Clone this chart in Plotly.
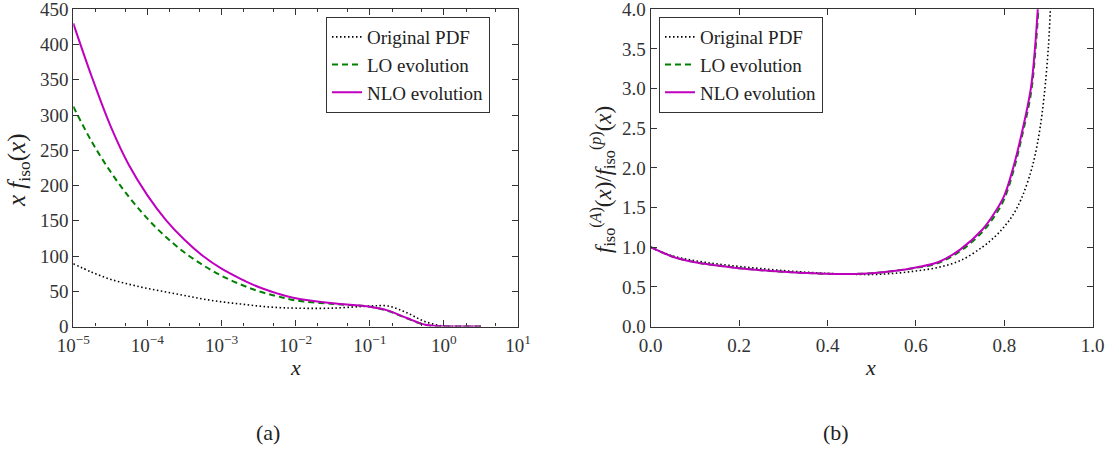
import plotly.graph_objects as go

# ---------------- Panel (a): x f_iso(x) vs x (log x) ----------------
log_x_a = [-5, -4.75, -4.5, -4.25, -4, -3.75, -3.5, -3.25, -3, -2.75, -2.5, -2.25,
           -2, -1.5, -1, -0.75, -0.5, -0.25, 0, 0.25, 0.5]
orig_a = [89, 77, 67, 60, 54, 49, 44, 39, 35, 32, 29, 27,
          26, 26, 29, 29, 19.5, 6.8, 0.5, 0, 0]
lo_a = [312, 262, 220, 184, 153, 127, 105, 87, 72, 60, 50, 43,
        37, 32, 28, 22, 11.5, 2.3, 0.3, 0, 0]
nlo_a = [430, 354, 285, 229, 186, 151, 123, 100, 82, 68, 56, 47,
         40, 33, 28, 22.5, 12, 2.5, 0.3, 0, 0]
x_a = [10 ** v for v in log_x_a]

# ---------------- Panel (b): ratio vs x ----------------
x_b = [0, 0.05, 0.1, 0.15, 0.2, 0.25, 0.3, 0.35, 0.4, 0.45, 0.5, 0.55, 0.6, 0.65,
       0.7, 0.75, 0.78, 0.8, 0.82, 0.84, 0.86, 0.87, 0.88, 0.89, 0.9, 0.905]
orig_b = [1.0, 0.89, 0.83, 0.79, 0.757, 0.73, 0.705, 0.685, 0.67, 0.66, 0.655, 0.67,
          0.70, 0.745, 0.83, 1.0, 1.14, 1.26, 1.41, 1.63, 1.95, 2.17, 2.47, 2.9, 3.55, 4.1]
x_b2 = [0, 0.05, 0.1, 0.15, 0.2, 0.25, 0.3, 0.35, 0.4, 0.45, 0.5, 0.55, 0.6, 0.65,
        0.7, 0.75, 0.78, 0.8, 0.82, 0.84, 0.86, 0.87, 0.88]
lo_b = [1.0, 0.88, 0.81, 0.77, 0.736, 0.71, 0.69, 0.675, 0.664, 0.662, 0.672, 0.70,
        0.74, 0.80, 0.95, 1.19, 1.41, 1.61, 1.95, 2.4, 2.93, 3.45, 4.25]
nlo_b = [1.0, 0.88, 0.81, 0.77, 0.736, 0.71, 0.69, 0.675, 0.664, 0.662, 0.672, 0.70,
         0.745, 0.81, 0.97, 1.22, 1.45, 1.65, 2.0, 2.45, 3.0, 3.55, 4.4]

a_xtick_vals = [1e-5, 1e-4, 1e-3, 1e-2, 1e-1, 1e0, 1e1]
a_xtick_text = ["10<sup>−5</sup>", "10<sup>−4</sup>", "10<sup>−3</sup>", "10<sup>−2</sup>",
                "10<sup>−1</sup>", "10<sup>0</sup>", "10<sup>1</sup>"]
a_ytick_vals = [0, 50, 100, 150, 200, 250, 300, 350, 400, 450]
b_xtick_vals = [0, 0.2, 0.4, 0.6, 0.8, 1.0]
b_ytick_vals = [0, 0.5, 1.0, 1.5, 2.0, 2.5, 3.0, 3.5, 4.0]
names = ["Original PDF", "LO evolution", "NLO evolution"]

FONT = "Liberation Serif, DejaVu Serif, serif"
BLACK = "#000000"
GREEN = "#008000"
MAGENTA = "#bf00bf"

W, H = 1119, 451

fig = go.Figure()

styles = [
    dict(color=BLACK, width=1.6, dash="1.5px,2.5px"),
    dict(color=GREEN, width=2, dash="6px,4px"),
    dict(color=MAGENTA, width=2),
]

for ys, nm, st in zip([orig_a, lo_a, nlo_a], names, styles):
    fig.add_trace(go.Scatter(x=x_a, y=ys, mode="lines", name=nm,
                             line=dict(shape="spline", smoothing=1.0, **st),
                             xaxis="x", yaxis="y", legend="legend"))

for xs, ys, nm, st in zip([x_b, x_b2, x_b2], [orig_b, lo_b, nlo_b], names, styles):
    fig.add_trace(go.Scatter(x=xs, y=ys, mode="lines", name=nm,
                             line=dict(shape="spline", smoothing=1.0, **st),
                             xaxis="x2", yaxis="y2", legend="legend2"))

ax_common = dict(showline=True, linecolor="#333333", linewidth=1.2, mirror="allticks",
                 ticks="inside", ticklen=6, tickwidth=1, tickcolor="#333333",
                 showgrid=False, zeroline=False, ticklabeloverflow="allow",
                 automargin=False,
                 tickfont=dict(family=FONT, size=19, color="#333333"))

yd = [124.5 / H, 441.7 / H]
legend_common = dict(y=1 - 17 / H, xanchor="left", yanchor="top",
                     bordercolor="#333333", borderwidth=1, bgcolor="white",
                     font=dict(family=FONT, size=19, color="#222222"),
                     tracegroupgap=0, itemwidth=30)
fig.update_layout(
    width=W, height=H,
    margin=dict(l=0, r=0, t=0, b=0, autoexpand=False),
    paper_bgcolor="white", plot_bgcolor="white",
    font=dict(family=FONT, color="#222222"),
    xaxis=dict(domain=[73.3 / W, 518 / W], type="log", range=[-5, 1],
               tickmode="array", tickvals=a_xtick_vals, ticktext=a_xtick_text,
               minor=dict(ticks="inside", ticklen=3, tickcolor="#333333", showgrid=False),
               ticklabelstandoff=2, anchor="y", **ax_common),
    yaxis=dict(domain=yd, range=[0, 450], tickmode="array", tickvals=a_ytick_vals,
               anchor="x", **ax_common),
    xaxis2=dict(domain=[650.7 / W, 1092.7 / W], range=[0, 1], tickmode="array",
                tickvals=b_xtick_vals, tickformat=".1f", ticklabelstandoff=2,
                anchor="y2", **ax_common),
    yaxis2=dict(domain=yd, range=[0, 4], tickmode="array", tickvals=b_ytick_vals,
                tickformat=".1f", anchor="x2", **ax_common),
    legend=dict(x=326 / W, **legend_common),
    legend2=dict(x=659 / W, **legend_common),
    showlegend=True,
)

ann = [
    dict(x=296 / W, y=1 - 367 / H, text="<i>x</i>", font=dict(size=22)),
    dict(x=870 / W, y=1 - 367 / H, text="<i>x</i>", font=dict(size=22)),
    dict(x=268 / W, y=1 - 432 / H, text="(a)", font=dict(size=22)),
    dict(x=836 / W, y=1 - 432 / H, text="(b)", font=dict(size=22)),
    dict(x=18 / W, y=1 - 170 / H, textangle=-90,
         text="<i>x f</i><sub>iso</sub>(<i>x</i>)", font=dict(size=25)),
    dict(x=602 / W, y=1 - 180 / H, textangle=-90,
         text="<i>f</i><sub>iso</sub><sup>(<i>A</i>)</sup>(<i>x</i>)/<i>f</i><sub>iso</sub><sup>(<i>p</i>)</sup>(<i>x</i>)",
         font=dict(size=23)),
]
for a in ann:
    a.update(xref="paper", yref="paper", showarrow=False, xanchor="center", yanchor="middle")
    a["font"].update(family=FONT, color="#222222")
fig.update_layout(annotations=ann)

fig.write_html("out.html")
